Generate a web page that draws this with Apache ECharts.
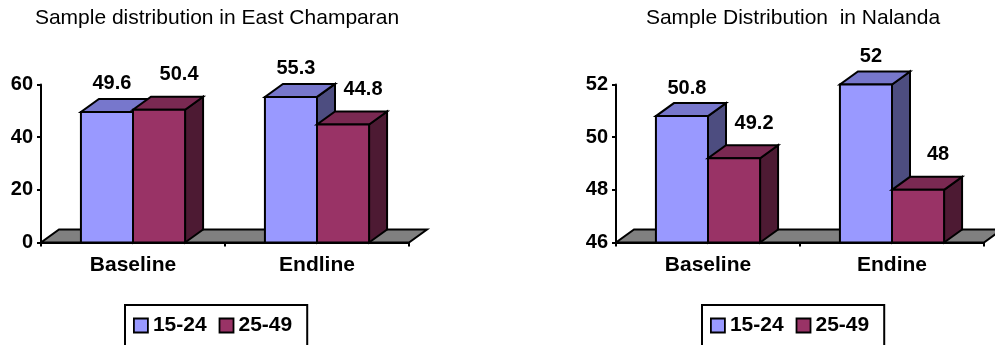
<!DOCTYPE html>
<html>
<head>
<meta charset="utf-8">
<script src="https://cdn.jsdelivr.net/npm/echarts@6/dist/echarts.min.js"></script>
<style>
  html, body { margin: 0; padding: 0; background: #fff; }
  #chart { width: 995px; height: 345px; }
</style>
</head>
<body>
<div id="chart"></div>
<script>
// Age groups shown in both panels
const ageGroups = ['15-24', '25-49'];

// East Champaran panel
const champaranTitle = 'Sample distribution in East Champaran';
const champaranRounds = ['Baseline', 'Endline'];
const champaran1524 = [49.6, 55.3];
const champaran2549 = [50.4, 44.8];
const champaranAxis = { min: 0, max: 60, interval: 20 };

// Nalanda panel
const nalandaTitle = 'Sample Distribution  in Nalanda';
const nalandaRounds = ['Baseline', 'Endine'];
const nalanda1524 = [50.8, 52];
const nalanda2549 = [49.2, 48];
const nalandaAxis = { min: 46, max: 52, interval: 2 };

// ---- styling ----
const FONT = 'Arial, "Liberation Sans", sans-serif';
const DX = 18, DY = -13;          // depth offset of the pseudo-3D boxes
const BAR_FRACTION = 0.283;       // each bar's width as a share of the category band
const shades = [
  { front: '#9999FF', top: '#7777CC', side: '#4D4D80' },
  { front: '#993366', top: '#7A2952', side: '#4D1A33' }
];
const labelShift = [ { dx: 5, dy: -28 }, { dx: 20, dy: -35 } ];
const edge = { stroke: '#000', lineWidth: 2, lineJoin: 'miter' };

function floorRenderer(yMin) {
  return function (params, api) {
    const cs = params.coordSys;
    const y = api.coord([0, yMin])[1];
    const xl = cs.x, xr = cs.x + cs.width;
    return {
      type: 'polygon',
      shape: { points: [[xl, y], [xr, y], [xr + DX, y + DY], [xl + DX, y + DY]] },
      style: Object.assign({ fill: '#808080' }, edge)
    };
  };
}

function barRenderer(slot, yMin) {
  const shade = shades[slot];
  const shift = labelShift[slot];
  return function (params, api) {
    const cat = api.value(0);
    const val = api.value(1);
    const top = api.coord([cat, val]);
    const base = api.coord([cat, yMin]);
    const w = api.size([1, 0])[0] * BAR_FRACTION;
    const x0 = slot === 0 ? top[0] - w : top[0];
    const x1 = x0 + w;
    const yt = top[1], yb = base[1];
    return {
      type: 'group',
      children: [
        { type: 'polygon',
          shape: { points: [[x1, yb], [x1 + DX, yb + DY], [x1 + DX, yt + DY], [x1, yt]] },
          style: Object.assign({ fill: shade.side }, edge) },
        { type: 'polygon',
          shape: { points: [[x0, yt], [x1, yt], [x1 + DX, yt + DY], [x0 + DX, yt + DY]] },
          style: Object.assign({ fill: shade.top }, edge) },
        { type: 'polygon',
          shape: { points: [[x0, yb], [x1, yb], [x1, yt], [x0, yt]] },
          style: Object.assign({ fill: shade.front }, edge) },
        { type: 'text', z2: 100,
          x: (x0 + x1) / 2 + shift.dx, y: yt + shift.dy,
          style: { text: String(val), fill: '#000', font: 'bold 20px ' + FONT,
                   align: 'center', verticalAlign: 'middle' } }
      ]
    };
  };
}

function panelSeries(idx, axisRange, s1524, s2549) {
  return [
    { type: 'custom', name: 'floor', xAxisIndex: idx, yAxisIndex: idx, z: 1,
      silent: true, data: [[0, axisRange.min]], renderItem: floorRenderer(axisRange.min) },
    { type: 'custom', name: ageGroups[0], xAxisIndex: idx, yAxisIndex: idx, z: 2,
      itemStyle: { color: shades[0].front },
      data: s1524.map((v, i) => [i, v]), renderItem: barRenderer(0, axisRange.min) },
    { type: 'custom', name: ageGroups[1], xAxisIndex: idx, yAxisIndex: idx, z: 2,
      itemStyle: { color: shades[1].front },
      data: s2549.map((v, i) => [i, v]), renderItem: barRenderer(1, axisRange.min) }
  ];
}

function xAxisFor(idx, rounds) {
  return {
    type: 'category', gridIndex: idx, data: rounds,
    axisLine: { show: true, lineStyle: { color: '#000', width: 2 } },
    axisTick: { show: true, length: 4, lineStyle: { color: '#000', width: 2 } },
    axisLabel: { color: '#000', fontFamily: FONT, fontWeight: 'bold', fontSize: 21, margin: 12 },
    splitLine: { show: false }
  };
}

function yAxisFor(idx, range) {
  return {
    type: 'value', gridIndex: idx, min: range.min, max: range.max, interval: range.interval,
    axisLine: { show: true, lineStyle: { color: '#000', width: 2 } },
    axisTick: { show: true, length: 4, lineStyle: { color: '#000', width: 2 } },
    axisLabel: { color: '#000', fontFamily: FONT, fontWeight: 'bold', fontSize: 20, margin: 8 },
    splitLine: { show: false }
  };
}

function legendAt(left, top) {
  return {
    left: left, top: top, orient: 'horizontal', data: ageGroups, selectedMode: false,
    icon: 'rect', itemWidth: 14, itemHeight: 14, itemGap: 12,
    padding: [10, 15, 20, 8],
    borderColor: '#000', borderWidth: 2, backgroundColor: '#fff',
    itemStyle: { borderColor: '#000', borderWidth: 1.8 },
    textStyle: { color: '#000', fontFamily: FONT, fontWeight: 'bold', fontSize: 21 }
  };
}

const chart = echarts.init(document.getElementById('chart'), null, { renderer: 'canvas' });
chart.setOption({
  backgroundColor: '#fff',
  animation: false,
  title: [
    { text: champaranTitle, left: 217, top: 8, textAlign: 'center', padding: 0,
      textStyle: { color: '#000', fontFamily: FONT, fontWeight: 'normal', fontSize: 21 } },
    { text: nalandaTitle, left: 793, top: 8, textAlign: 'center', padding: 0,
      textStyle: { color: '#000', fontFamily: FONT, fontWeight: 'normal', fontSize: 21 } }
  ],
  legend: [ legendAt(125, 305), legendAt(702, 305) ],
  grid: [
    { left: 41, top: 84.5, width: 368, height: 158, containLabel: false, outerBoundsMode: 'none' },
    { left: 616, top: 84.5, width: 368, height: 158, containLabel: false, outerBoundsMode: 'none' }
  ],
  xAxis: [ xAxisFor(0, champaranRounds), xAxisFor(1, nalandaRounds) ],
  yAxis: [ yAxisFor(0, champaranAxis), yAxisFor(1, nalandaAxis) ],
  series: [].concat(
    panelSeries(0, champaranAxis, champaran1524, champaran2549),
    panelSeries(1, nalandaAxis, nalanda1524, nalanda2549)
  )
});
</script>
</body>
</html>
